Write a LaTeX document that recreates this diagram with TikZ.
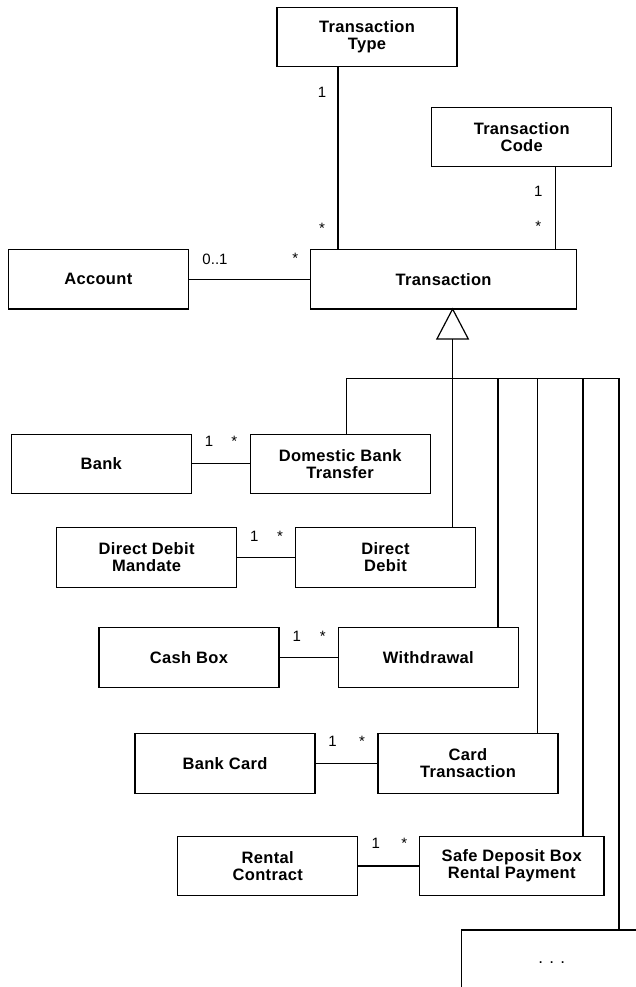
\documentclass[tikz,border=0pt]{standalone}
\usepackage{fontspec}
\setmainfont{Liberation Sans}
\newfontfamily\clsfont[LetterSpace=2]{Liberation Sans}
\begin{document}
\begin{tikzpicture}[x=1pt,y=-1pt,
  cls/.style={draw, line width=1.2pt, outer sep=0pt, inner sep=0pt,
    minimum width=180pt, minimum height=59.4pt, align=center,
    font=\clsfont\bfseries\fontsize{16.5}{17}\selectfont},
  mult/.style={anchor=base, inner sep=0pt, font=\fontsize{15}{17}\selectfont},
  conn/.style={line width=1.2pt}]
\useasboundingbox (0,0) rectangle (636,987);

% classes
\node[cls] (tt) at (367,37) {Transaction\\Type};
\node[cls] (tc) at (521.7,137) {Transaction\\Code};
\node[cls] (acc) at (98.3,279.3) {Account};
\node[cls, minimum width=266pt] (tx) at (443.6,279.3) {Transaction};
\node[cls] (bank) at (101.2,463.8) {Bank};
\node[cls] (dbt) at (340.2,463.8) {Domestic Bank\\Transfer};
\node[cls] (ddm) at (146.6,557.5) {Direct Debit\\Mandate};
\node[cls] (dd) at (385.5,557.5) {Direct\\Debit};
\node[cls] (cb) at (189,657.4) {Cash Box};
\node[cls] (wd) at (428.4,657.4) {Withdrawal};
\node[cls] (bc) at (225,763.4) {Bank Card};
\node[cls] (ct) at (468,763.4) {Card\\Transaction};
\node[cls] (rc) at (267.7,866) {Rental\\Contract};
\node[cls, minimum width=184.7pt] (sdb) at (511.7,866) {Safe Deposit Box\\Rental Payment};
\node[cls, font=\fontsize{17}{17}\selectfont] (more) at (551.7,959.7) {\vphantom{Ag}. . .};

% associations
\draw[conn] ([xshift=-29pt]tt.south) coordinate (ttb) -- (ttb |- tx.north);
\draw[conn] ([xshift=34pt]tc.south) coordinate (tcb) -- (tcb |- tx.north);
\draw[conn] (acc.east) -- (acc.east -| tx.west);
\draw[conn] (bank.east) -- (bank.east -| dbt.west);
\draw[conn] (ddm.east) -- (ddm.east -| dd.west);
\draw[conn] (cb.east) -- (cb.east -| wd.west);
\draw[conn] (bc.east) -- (bc.east -| ct.west);
\draw[conn] (rc.east) -- (rc.east -| sdb.west);

% multiplicities
\node[mult] (m1) at (322,97.7) {1};
\node[mult] (m2) at (322,233) {*};
\node[mult] (m3) at (538.3,196.7) {1};
\node[mult] (m4) at (538.3,231) {*};
\node[mult] (m5) at (215,264) {0..1};
\node[mult] (m6) at (295.2,263) {*};
\node[mult] (m7) at (209,446.5) {1};
\node[mult] (m8) at (234.4,446.5) {*};
\node[mult] (m9) at (254.3,541.5) {1};
\node[mult] (m10) at (280,541.5) {*};
\node[mult] (m11) at (296.8,641.5) {1};
\node[mult] (m12) at (322.8,641.5) {*};
\node[mult] (m13) at (332.5,746.5) {1};
\node[mult] (m14) at (362.1,746.5) {*};
\node[mult] (m15) at (375.7,848.3) {1};
\node[mult] (m16) at (404.3,848.3) {*};

% generalization
\coordinate (apex) at ([xshift=9pt]tx.south);
\coordinate (gbase) at ([yshift=-30pt]apex);
\draw[conn, line join=miter] (apex) -- ([xshift=-15.7pt]gbase) -- ([xshift=15.7pt]gbase) -- cycle;
\coordinate (busL) at (346.7,378.3);
\coordinate (b3) at (498,378.3);
\coordinate (b4) at (537.7,378.3);
\coordinate (b5) at (583,378.3);
\coordinate (busR) at (619,378.3);
\draw[conn] (gbase) -- (gbase |- dd.north);
\draw[conn] (dbt.north -| busL) -- (busL) -- (busR) -- (busR |- more.north);
\draw[conn] (b3) -- (b3 |- wd.north);
\draw[conn] (b4) -- (b4 |- ct.north);
\draw[conn] (b5) -- (b5 |- sdb.north);
\end{tikzpicture}
\end{document}
